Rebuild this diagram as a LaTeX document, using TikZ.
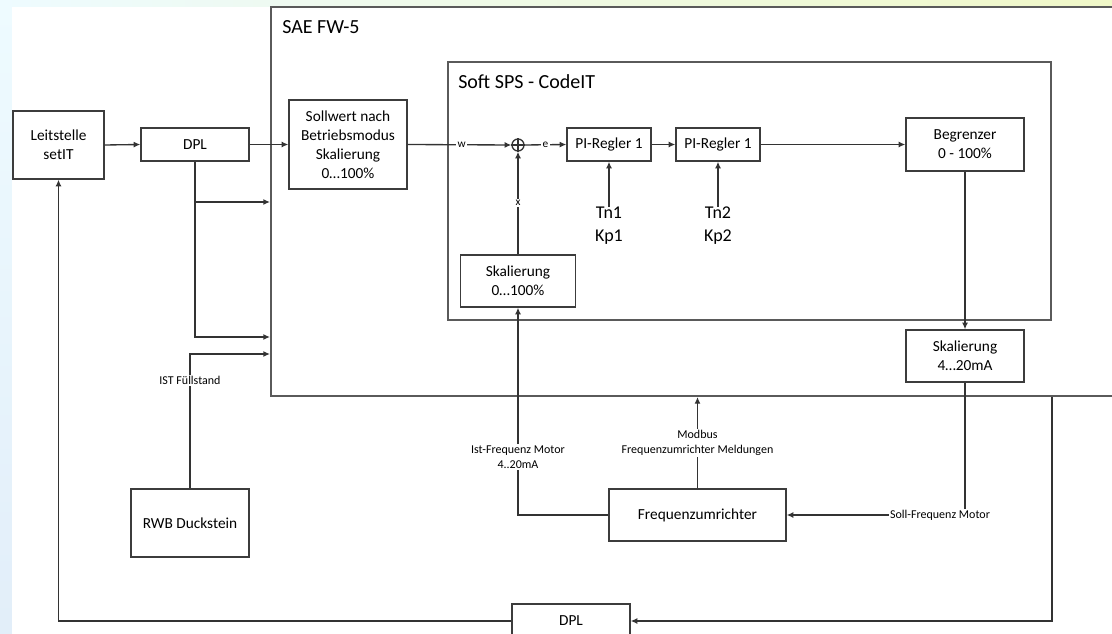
\documentclass[tikz,border=0pt]{standalone}
\usepackage{fontspec}
\setmainfont{Carlito}
\usetikzlibrary{arrows.meta}

\definecolor{linegray}{HTML}{333333}
\definecolor{boxgray}{HTML}{3C3C3C}
\definecolor{framegray}{HTML}{5A5A5A}
\definecolor{bgblue}{HTML}{E2EEF9}
\definecolor{bgcyan}{HTML}{EEFBFF}
\definecolor{bgyellow}{HTML}{F0F8C8}

\tikzset{
  block/.style={draw=boxgray, line width=1pt, fill=white, align=center, inner sep=0pt,
    font=\fontsize{11.5}{14.25}\selectfont},
  frame/.style={draw=framegray, line width=1.5pt, inner sep=0pt},
  title/.style={font=\fontsize{15}{18}\selectfont, inner sep=0pt},
  param/.style={font=\fontsize{13.5}{17.25}\selectfont, align=center, inner sep=0pt},
  sig/.style={font=\fontsize{9}{11}\selectfont, fill=white, inner sep=1pt, align=center},
  conn/.style={draw=linegray, line width=1pt, ->},
}

\begin{document}
\begin{tikzpicture}[x=0.75pt, y=-0.75pt, >={Latex[length=5pt,width=4.5pt]}]
\path[use as bounding box] (0,0) rectangle (1112,634);
\clip (0,0) rectangle (1112,634);

% background
\shade[left color=bgcyan, middle color=bgblue, right color=bgyellow] (0,0) rectangle (1112,7);
\shade[top color=bgcyan, bottom color=bgblue] (0,0) rectangle (12,634);
\fill[white] (12,7) rectangle (1112,634);

% frames
\node[name=sae, frame, minimum width=644.25pt, minimum height=291.75pt] at (700.5,201.5) {};
\node[name=sps, frame, minimum width=452.25pt, minimum height=193.5pt] at (749.5,191) {};
\node[name=sae_title, title, anchor=west] at (282,27) {SAE FW-5};
\node[name=sps_title, title, anchor=west] at (458,82) {Soft SPS - CodeIT};

% blocks
\node[name=leitstelle, block, minimum width=68.25pt, minimum height=51pt] at (58.5,145) {Leitstelle\\setIT};
\node[name=dpl_in, block, minimum width=81pt, minimum height=24.75pt] at (195,144.5) {DPL};
\node[name=sollwert, block, minimum width=88.5pt, minimum height=66.75pt] at (348,144.5) {Sollwert nach\\Betriebsmodus\\Skalierung\\0…100\%};
\node[name=sum, circle, draw=linegray, line width=1pt, fill=white, minimum size=9pt, inner sep=0pt] at (518,145) {};
\draw[linegray, line width=1pt] (sum.north) -- (sum.south) (sum.west) -- (sum.east);
\node[name=pi_1, block, minimum width=63pt, minimum height=24.75pt] at (609,144.5) {PI-Regler 1};
\node[name=pi_2, block, minimum width=63pt, minimum height=24.75pt] at (718,144.5) {PI-Regler 1};
\node[name=begrenzer, block, minimum width=88.5pt, minimum height=39.75pt] at (965,144.5) {Begrenzer\\0 - 100\%};
\node[name=skal_ist, block, minimum width=86.25pt, minimum height=39pt] at (518,281) {Skalierung\\0…100\%};
\node[name=skal_soll, block, minimum width=88.5pt, minimum height=39pt] at (965,356) {Skalierung\\4…20mA};
\node[name=rwb, block, minimum width=88.5pt, minimum height=51pt] at (190,523) {RWB Duckstein};
\node[name=fu, block, minimum width=132.75pt, minimum height=39pt] at (697.5,515) {Frequenzumrichter};
\node[name=dpl_out, block, minimum width=88.5pt, minimum height=25.5pt] at (571,621) {DPL};
\node[name=tn_1, param] at (609,226) {Tn1\\Kp1};
\node[name=tn_2, param] at (718,226) {Tn2\\Kp2};

\coordinate (split_1) at (195,202);
\coordinate (split_2) at (195,337);
\coordinate (ist_knee) at (190,354);

% connectors
\draw[conn] (leitstelle.east) -- (dpl_in.west);
\draw[conn] (dpl_in.east) -- (sollwert.west);
\draw[conn] (dpl_in.south) |- (sae.west |- split_2);
\draw[conn] (split_1) -- (sae.west |- split_1);
\draw[conn] (rwb.north) |- node[sig, pos=0.4]{IST Füllstand} (sae.west |- ist_knee);
\draw[conn] (sollwert.east) -- node[sig, pos=0.52, font=\fontsize{8.5}{9}\selectfont]{w} (sum.west);
\draw[conn] (sum.east) -- node[sig, font=\fontsize{8.5}{9}\selectfont]{e} (pi_1.west);
\draw[conn] (skal_ist.north) -- node[sig, font=\fontsize{8.5}{9}\selectfont]{x} (sum.south);
\draw[conn] (pi_1.east) -- (pi_2.west);
\draw[conn] (pi_2.east) -- (begrenzer.west);
\draw[conn] (tn_1.north) -- (pi_1.south);
\draw[conn] (tn_2.north) -- (pi_2.south);
\draw[conn] (begrenzer.south) -- (skal_soll.north);
\draw[conn] (skal_soll.south) |- node[sig, pos=0.57]{Soll-Frequenz Motor} (fu.east);
\draw[conn] (fu.west) -| node[sig, pos=0.64]{Ist-Frequenz Motor\\4..20mA} (skal_ist.south);
\draw[conn] (fu.north) -- node[sig]{Modbus\\Frequenzumrichter Meldungen} (fu.north |- sae.south);
\draw[conn] (sps.east |- sae.south) |- (dpl_out.east);
\draw[conn] (dpl_out.west) -| (leitstelle.south);
\end{tikzpicture}
\end{document}
